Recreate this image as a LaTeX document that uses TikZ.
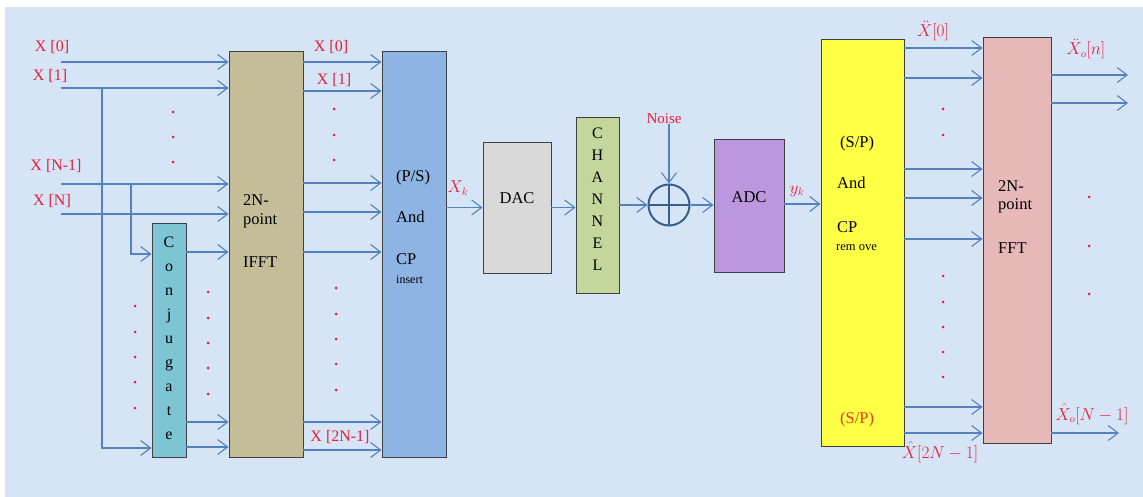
\documentclass[tikz,border=0pt]{standalone}
\usepackage{fontspec}
\setmainfont{Liberation Serif}
\usetikzlibrary{arrows.meta}
\definecolor{bgblue}{RGB}{214,229,246}
\definecolor{arr}{RGB}{84,130,190}
\definecolor{lab}{RGB}{228,32,60}
\definecolor{spred}{RGB}{230,60,30}
\definecolor{cifft}{RGB}{196,189,151}
\definecolor{cconj}{RGB}{125,196,212}
\definecolor{cps}{RGB}{141,180,226}
\definecolor{cdac}{RGB}{217,217,217}
\definecolor{cchan}{RGB}{195,214,155}
\definecolor{cadc}{RGB}{188,150,222}
\definecolor{csp}{RGB}{255,255,70}
\definecolor{cfft}{RGB}{230,185,184}
\definecolor{csum}{RGB}{55,95,140}
\begin{document}
\begin{tikzpicture}[x=1pt,y=-1pt,
  blk/.style={draw=black!75, line width=0.9pt, inner sep=0pt},
  ar/.style={draw=arr, line width=1.1pt, -{Straight Barb[length=10pt,width=15pt,line width=1.1pt]}},
  txt/.style={font=\fontsize{16.5}{19}\selectfont, inner sep=0pt, text=black},
  stxt/.style={font=\fontsize{12}{14}\selectfont, inner sep=0pt, text=black},
  rl/.style={font=\fontsize{16}{19}\selectfont, inner sep=0pt, text=lab},
  dot/.style={fill=lab}]
% background
\fill[white] (0,0) rectangle (1143,497);
\fill[bgblue] (5,7) rectangle (1143,497);
\useasboundingbox (0,0) rectangle (1143,497);

% boxes
\node[blk, fill=cifft, minimum width=74pt, minimum height=406pt] (ifft) at (266,254) {};
\node[blk, fill=cconj, minimum width=34pt, minimum height=234pt] (conj) at (169,340) {};
\node[blk, fill=cps, minimum width=64pt, minimum height=406pt] (psb) at (414,254) {};
\node[blk, fill=cdac, minimum width=68pt, minimum height=131pt] (dac) at (517,207.5) {};
\node[blk, fill=cchan, minimum width=43pt, minimum height=176pt] (chan) at (597.5,205) {};
\node[draw=csum, line width=2pt, circle, minimum size=41pt, inner sep=0pt,
  path picture={\draw[csum, line width=2pt] (path picture bounding box.north) -- (path picture bounding box.south)
   (path picture bounding box.west) -- (path picture bounding box.east);}] (sum) at (669,205) {};
\node[blk, fill=cadc, minimum width=70pt, minimum height=133pt] (adc) at (749,205.5) {};
\node[blk, fill=csp, minimum width=83pt, minimum height=407pt] (sp) at (862.5,242.5) {};
\node[blk, fill=cfft, minimum width=68pt, minimum height=406pt] (fft) at (1017,240) {};

% box texts
\node[txt, align=center, font=\fontsize{16}{24}\selectfont] (conjt) at (169,338) {C\\o\\n\\j\\u\\g\\a\\t\\e};
\node[txt, align=center, font=\fontsize{16}{22}\selectfont] (chant) at (597.5,199) {C\\H\\A\\N\\N\\E\\L};
\node[txt, anchor=west] (ifftA) at (243,200) {2N-};
\node[txt, anchor=west] (ifftB) at (243,221) {point};
\node[txt, anchor=west] (ifftC) at (243,262) {IFFT};
\node[txt, anchor=west] (psA) at (396,178) {(P/S)};
\node[txt, anchor=west] (psB) at (396,217) {And};
\node[txt, anchor=west] (psC) at (396,259) {CP};
\node[stxt, anchor=west] (psD) at (396,280) {insert};
\node[txt] (dact) at (517,198) {DAC};
\node[txt] (adct) at (749,197) {ADC};
\node[txt, anchor=west] (spA) at (840,144) {(S/P)};
\node[txt, anchor=west] (spB) at (837,183) {And};
\node[txt, anchor=west] (spC) at (837,227) {CP};
\node[stxt, anchor=west, font=\fontsize{12.5}{14}\selectfont] (spD) at (836,248) {rem ove};
\node[txt, anchor=west, text=spred] (spE) at (840,420) {(S/P)};
\node[txt, anchor=west] (fftA) at (998,186) {2N-};
\node[txt, anchor=west] (fftB) at (998,206) {point};
\node[txt, anchor=west] (fftC) at (998,248) {FFT};

% input coordinates
\coordinate (i0) at (61,62);
\coordinate (i1) at (61,88);
\coordinate (iN1) at (61,184);
\coordinate (iN) at (61,214);
\coordinate (b1) at (102,88);
\coordinate (bN1) at (131,184);
\draw[ar] (i0) -- (i0 -| ifft.west);
\draw[ar] (i1) -- (i1 -| ifft.west);
\draw[ar] (iN1) -- (iN1 -| ifft.west);
\draw[ar] (iN) -- (iN -| ifft.west);
\draw[ar] (b1) |- (conj.west |- 0,448);
\draw[ar] (bN1) |- (conj.west |- 0,254);

% conjugate outputs
\foreach \y in {252,422,447}{
  \draw[ar] (conj.east |- 0,\y) -- (ifft.west |- 0,\y);
}
% IFFT outputs
\foreach \y in {62,91,183,212,252,422,450}{
  \draw[ar] (ifft.east |- 0,\y) -- (psb.west |- 0,\y);
}
% S/P outputs
\foreach \y in {48,78,169,198,239,407,433}{
  \draw[ar] (sp.east |- 0,\y) -- (fft.west |- 0,\y);
}
% FFT outputs
\coordinate (o1) at (1128,75);
\coordinate (o2) at (1128,103);
\coordinate (o3) at (1119,433);
\draw[ar] (fft.east |- o1) -- (o1);
\draw[ar] (fft.east |- o2) -- (o2);
\draw[ar] (fft.east |- o3) -- (o3);

% main chain
\node[rl, font=\fontsize{15}{17}\selectfont] (noise) at (664,119) {Noise};
\draw[ar] (psb.east |- dac.west) -- (dac.west);
\draw[ar] (dac.east) -- (dac.east -| chan.west);
\draw[ar] (chan.east |- sum.west) -- (sum.west);
\draw[ar] (sum.north |- noise.south) -- (sum.north);
\draw[ar] (sum.east) -- (sum.east -| adc.west);
\draw[ar] (adc.east |- 0,204) -- (sp.west |- 0,204);

% labels
\node[rl] (lx0) at (52,47) {X [0]};
\node[rl] (lx1) at (50,76) {X [1]};
\node[rl] (lxn1) at (56,166) {X [N-1]};
\node[rl] (lxn) at (52,201) {X [N]};
\node[rl] (mx0) at (331,47) {X [0]};
\node[rl] (mx1) at (334,80) {X [1]};
\node[rl] (mx2) at (340,437) {X [2N-1]};
\node[rl] (lxk) at (458,188) {$X_k$};
\node[rl] (lyk) at (797,191) {$y_k$};
\node[rl] (ld0) at (933,31) {$\ddot{X}[0]$};
\node[rl] (ld2) at (940,452) {$\hat{X}[2N-1]$};
\node[rl] (lo1) at (1086,49) {$\ddot{X}_o[n]$};
\node[rl] (lo2) at (1092,414) {$\hat{X}_o[N-1]$};

% dots
\foreach \x/\y in {173/112,173/137,173/162,
  135/306,135/332,135/357,135/382,135/408,
  208/292,208/318,208/343,208/368,208/394,
  334/109,334/135,334/160,
  336/288,336/314,336/339,336/364,336/390,
  943/109,943/135,943/276,943/302,943/327,943/352,943/377,
  1089/197,1089/246,1089/294}{
  \fill[dot] (\x,\y) circle (1.5pt);
}
\end{tikzpicture}
\end{document}
